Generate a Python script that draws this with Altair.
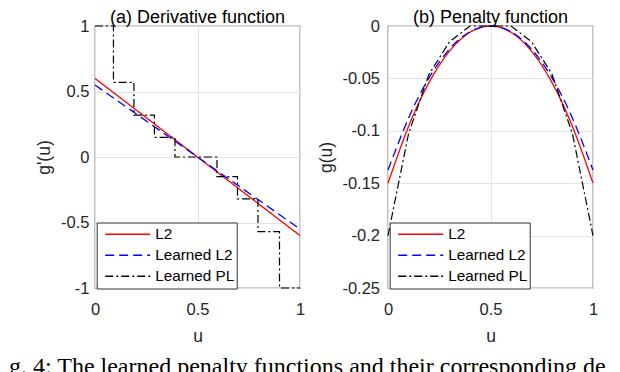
import altair as alt
import pandas as pd

# ---------------- data ----------------
series_names = ["L2", "Learned L2", "Learned PL"]
series_colors = ["#ff0000", "#0000ff", "#000000"]
series_dashes = [[1, 0], [9, 5], [8, 3, 2, 3]]

# (a) derivative function g'(u)
u_line = [0.0, 1.0]
d_l2 = [0.6, -0.6]
d_learned_l2 = [0.55, -0.55]
pl_edges = [0.0, 0.09, 0.19, 0.29, 0.39, 0.595, 0.695, 0.795, 0.9, 1.0]
pl_steps = [1.0, 0.57, 0.32, 0.15, 0.0, -0.15, -0.32, -0.57, -1.0]

# (b) penalty function g(u)
u_grid = [0.0, 0.1, 0.2, 0.3, 0.4, 0.5, 0.6, 0.7, 0.8, 0.9, 1.0]
g_l2 = [-0.15, -0.096, -0.054, -0.024, -0.006, 0.0, -0.006, -0.024, -0.054, -0.096, -0.15]
g_learned_l2 = [-0.1375, -0.088, -0.0495, -0.022, -0.0055, 0.0, -0.0055, -0.022, -0.0495, -0.088, -0.1375]
u_pl = [0.0, 0.1, 0.2, 0.3, 0.4, 0.6, 0.7, 0.8, 0.9, 1.0]
g_pl = [-0.2, -0.103, -0.046, -0.015, 0.0, 0.0, -0.015, -0.046, -0.103, -0.2]

x_ticks = [0, 0.5, 1]
ya_ticks = [-1, -0.5, 0, 0.5, 1]
yb_ticks = [-0.25, -0.2, -0.15, -0.1, -0.05, 0]

caption = "g. 4: The learned penalty functions and their corresponding de"

# ---------------- tables ----------------
da_smooth = pd.DataFrame({
    "u": u_line + u_line,
    "v": d_l2 + d_learned_l2,
    "s": ["L2"] * 2 + ["Learned L2"] * 2,
})
da_pl = pd.DataFrame({
    "u": pl_edges,
    "v": pl_steps + [pl_steps[-1]],
    "s": ["Learned PL"] * len(pl_edges),
})
db_smooth = pd.DataFrame({
    "u": u_grid + u_grid,
    "v": g_l2 + g_learned_l2,
    "s": ["L2"] * len(u_grid) + ["Learned L2"] * len(u_grid),
})
db_pl = pd.DataFrame({"u": u_pl, "v": g_pl, "s": ["Learned PL"] * len(u_pl)})

FONT = "Liberation Sans"
TXT = "#262626"
fmt_label = "replace(format(datum.value, '~g'), '\u2212', '-')"

legend = alt.Legend(
    orient="none", legendX=1.7, legendY=196.5, title=None, symbolType="stroke",
    symbolSize=2025, symbolStrokeWidth=1.3, clipHeight=20.5, rowPadding=0,
    labelFontSize=15.3, labelFont=FONT, labelColor="#000", fillColor="white",
    strokeColor="#333333", padding=1.5, symbolOffset=6, labelOffset=4,
    labelLimit=200,
)
color = alt.Color("s:N", scale=alt.Scale(domain=series_names, range=series_colors), legend=legend)
dash = alt.StrokeDash("s:N", scale=alt.Scale(domain=series_names, range=series_dashes), legend=legend)

pl_interp = {"(a) Derivative function": "step-after", "(b) Penalty function": "linear"}


def xaxis():
    return alt.X("u:Q", scale=alt.Scale(domain=[0, 1], nice=False),
                 axis=alt.Axis(values=x_ticks, title="u", labelFlush=False,
                               labelPadding=13, titlePadding=10, labelExpr=fmt_label))


def panel(smooth, pl, ticks, dom, ytitle, title_x, lab_pad, ttl, interp):
    y = alt.Y("v:Q", scale=alt.Scale(domain=dom, nice=False, zero=False),
              axis=alt.Axis(values=ticks, title=ytitle, labelPadding=lab_pad,
                            titleX=title_x, titleY=131, titleBaseline="middle",
                            labelExpr=fmt_label))
    base_enc = dict(x=xaxis(), y=y, color=color, strokeDash=dash)
    l1 = alt.Chart(smooth).mark_line(strokeWidth=1.3, interpolate=interp).encode(
        detail="s:N", **base_enc)
    l2 = alt.Chart(pl).mark_line(strokeWidth=1.2, interpolate=pl_interp[ttl]).encode(**base_enc)
    return (l1 + l2).properties(
        width=205, height=262,
        title=alt.TitleParams(ttl, font=FONT, fontSize=18, fontWeight="normal",
                              color="#000", offset=-9),
    )


left = panel(da_smooth, da_pl, ya_ticks, [-1, 1], "g'(u)", -50.5, 6,
             "(a) Derivative function", "linear")
right = panel(db_smooth, db_pl, yb_ticks, [-0.25, 0], "g(u)", -62, 8.5,
              "(b) Penalty function", "natural")

cap = alt.Chart(pd.DataFrame({"t": [caption]})).mark_text(
    align="left", baseline="alphabetic", font="Liberation Serif", fontSize=24, color="#000"
).encode(text="t:N", x=alt.value(-86), y=alt.value(348))

left = alt.layer(left, cap)

chart = alt.hconcat(left, right, spacing=88, bounds="flush").resolve_legend(
    color="independent", strokeDash="independent"
).properties(
    padding={"left": 0, "top": 0, "right": 0, "bottom": 0}
).configure_view(
    stroke="#333333", strokeWidth=1.2
).configure_axis(
    labelFont=FONT, labelFontSize=16.5, labelColor=TXT,
    titleFont=FONT, titleFontSize=17.5, titleFontWeight="normal", titleColor=TXT,
    gridColor="#e3e3e3", gridWidth=1, domain=False, ticks=False, labelOverlap=False,
)

chart.save("out.html", embed_options={"renderer": "svg", "actions": False})
